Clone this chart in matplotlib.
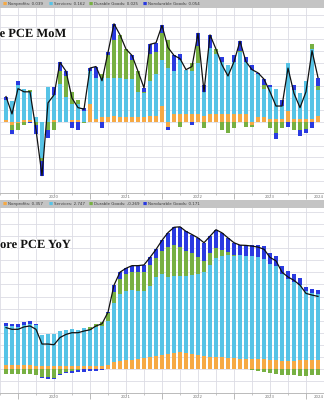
import matplotlib
matplotlib.use("Agg")
import matplotlib.pyplot as plt
import matplotlib.patheffects as pe
import numpy as np

# --- DATA (one bar per month, plotted at month end, Oct 2019 .. Feb 2024)
months = np.arange(-2, 51)          # 0 = end of Dec 2019
years = [2020, 2021, 2022, 2023, 2024]
year_starts = [0, 12, 24, 36, 48]
year_label_pos = [6, 18, 30, 42, 50.2]
names = ["Nonprofits", "Services", "Durable Goods", "Nondurable Goods"]

# Core PCE MoM contributions
mom_nonprofits = [0.01, -0.02, -0.01,
                  0.01, 0.01, 0.0, 0.0, 0.0, 0.01, 0.0, 0.0, 0.01, 0.01, 0.0, 0.11,
                  0.02, 0.03, 0.03, 0.04, 0.03, 0.03, 0.03, 0.03, 0.03, 0.04, 0.04, 0.10,
                  -0.03, 0.05, 0.05, 0.05, 0.05, 0.05, 0.04, 0.05, 0.05, 0.05, 0.05, 0.05,
                  0.05, 0.05, -0.02, 0.03, 0.03, 0.02, 0.02, 0.02, 0.07, 0.02, 0.02, 0.02,
                  0.02, 0.039]
mom_services = [0.13, 0.13, 0.23,
                0.20, 0.18, 0.03, -0.23, 0.22, 0.16, 0.24, 0.16, 0.10, 0.10, 0.07, 0.21,
                0.26, 0.25, 0.25, 0.24, 0.25, 0.24, 0.24, 0.16, 0.15, 0.22, 0.26, 0.29,
                0.34, 0.27, 0.34, 0.28, 0.27, 0.32, 0.15, 0.42, 0.38, 0.33, 0.31, 0.33,
                0.39, 0.33, 0.33, 0.27, 0.18, 0.20, 0.19, 0.08, 0.30, 0.18, 0.16, 0.24,
                0.44, 0.162]
mom_durable = [0.0, -0.03, -0.04,
               -0.02, 0.01, -0.02, -0.02, -0.05, -0.05, 0.08, 0.13, 0.08, 0.03, -0.01, 0.0,
               0.0, 0.02, 0.14, 0.24, 0.27, 0.19, 0.12, 0.13, 0.01, 0.17, 0.14, 0.17,
               0.18, 0.0, -0.03, 0.0, 0.05, 0.11, -0.04, 0.0, 0.03, -0.05, -0.07, -0.04,
               0.01, -0.03, -0.01, 0.0, 0.02, -0.04, -0.07, -0.04, 0.0, -0.05, -0.05, -0.045,
               0.03, 0.025]
mom_nondurable = [0.02, -0.03, 0.03,
                  0.0, -0.01, -0.06, -0.09, -0.05, 0.05, 0.056, 0.03, -0.04, -0.05, 0.02, 0.02,
                  0.07, -0.04, 0.02, 0.10, 0.0, 0.0, 0.03, 0.0, 0.025, 0.06, 0.06, 0.05,
                  -0.02, 0.10, 0.04, 0.0, -0.02, 0.08, 0.04, 0.08, 0.0, 0.03, 0.0, 0.04,
                  0.06, 0.03, 0.03, 0.01, 0.04, 0.01, -0.04, 0.04, -0.03, 0.03, -0.04, -0.025,
                  -0.04, 0.054]

# Core PCE YoY contributions
yoy_nonprofits = [0.15, 0.15, 0.15,
                  0.15, 0.15, 0.14, 0.12, 0.12, 0.12, 0.12, 0.12, 0.12, 0.12, 0.12, 0.12,
                  0.13, 0.14, 0.18, 0.28, 0.32, 0.35, 0.38, 0.40, 0.45, 0.50, 0.55, 0.56,
                  0.60, 0.65, 0.69, 0.65, 0.60, 0.58, 0.52, 0.50, 0.50, 0.48, 0.46, 0.44,
                  0.42, 0.42, 0.41, 0.40, 0.40, 0.38, 0.36, 0.34, 0.34, 0.34, 0.35, 0.35,
                  0.36, 0.357]
yoy_services = [1.64, 1.61, 1.59,
                1.67, 1.71, 1.66, 1.28, 1.31, 1.31, 1.43, 1.49, 1.54, 1.51, 1.57, 1.50,
                1.61, 1.64, 1.82, 2.46, 2.79, 2.87, 2.90, 2.83, 2.78, 2.92, 3.25, 3.37,
                3.22, 3.20, 3.16, 3.22, 3.30, 3.35, 3.50, 3.80, 4.10, 4.20, 4.25, 4.25,
                4.29, 4.25, 4.26, 4.23, 4.14, 3.95, 3.89, 3.58, 3.39, 3.26, 3.13, 2.86,
                2.77, 2.747]
yoy_durable = [-0.20, -0.22, -0.22,
               -0.22, -0.22, -0.24, -0.32, -0.35, -0.38, -0.20, -0.12, -0.08, -0.05, -0.02, 0.10,
               0.12, 0.15, 0.30, 0.45, 0.60, 0.70, 0.75, 0.80, 0.80, 0.90, 0.80, 0.95,
               1.23, 1.27, 1.19, 1.03, 0.92, 0.70, 0.46, 0.50, 0.42, 0.26, 0.12, 0.04,
               0.00, -0.02, -0.05, -0.08, -0.12, -0.18, -0.22, -0.25, -0.26, -0.27, -0.28, -0.28,
               -0.27, -0.269]
yoy_nondurable = [0.12, 0.10, 0.12,
                  0.14, 0.14, 0.08, -0.05, -0.05, -0.05, -0.05, -0.06, -0.08, -0.08, -0.10, -0.10,
                  -0.08, -0.06, 0.05, 0.28, 0.30, 0.25, 0.25, 0.25, 0.28, 0.30, 0.35, 0.45,
                  0.60, 0.75, 0.85, 0.80, 0.75, 0.80, 0.75, 0.70, 0.75, 0.70, 0.60, 0.50,
                  0.42, 0.47, 0.47, 0.50, 0.54, 0.47, 0.45, 0.34, 0.34, 0.34, 0.27, 0.20,
                  0.20, 0.171]

colors = ["#f6a944", "#56c3e6", "#77b042", "#2a3ae0"]
GRID = "#dcdce4"


def stacked_bars(ax, x, series):
    # positives stack up from zero, negatives stack down, in series order
    pos = np.zeros(len(x))
    neg = np.zeros(len(x))
    for vals, c in zip(series, colors):
        v = np.asarray(vals, dtype=float)
        base = np.where(v >= 0, pos, neg)
        ax.bar(x, v, bottom=base, width=0.7, color=c, linewidth=0, zorder=2)
        pos += np.clip(v, 0, None)
        neg += np.clip(v, None, 0)
    return pos + neg


def setup_axes(ax, ylim, step):
    ax.set_xlim(-1.94, 50.13)
    ax.set_ylim(*ylim)
    ax.set_yticks(np.arange(np.floor(ylim[0] / step) * step, ylim[1], step))
    ax.set_xticks(year_starts)
    ax.set_xticks(np.arange(-3, 52, 3), minor=True)
    ax.set_xticklabels([])
    ax.grid(True, which="both", axis="x", color=GRID, lw=0.6, zorder=0)
    ax.grid(True, which="major", axis="y", color=GRID, lw=0.6, zorder=0)
    ax.set_axisbelow(True)
    for s in ["top", "left", "right"]:
        ax.spines[s].set_visible(False)
    ax.spines["bottom"].set_color("#b0b0b0")
    ax.spines["bottom"].set_linewidth(0.6)
    ax.tick_params(axis="y", left=False, labelleft=False)
    ax.tick_params(axis="x", which="major", length=4, width=0.6, color="#b0b0b0")
    ax.tick_params(axis="x", which="minor", length=1.5, width=0.5, color="#b0b0b0")
    for yr, xp in zip(years, year_label_pos):
        ax.text(xp, -0.022, str(yr), transform=ax.get_xaxis_transform(),
                ha="center", va="center", fontsize=2.8, color="#777777")


def legend_bar(rect, series):
    lax = fig.add_axes(rect)
    lax.set_facecolor("#c4c4c4")
    lax.set_xlim(0, 324)
    lax.set_ylim(0, 1)
    lax.set_xticks([])
    lax.set_yticks([])
    for s in lax.spines.values():
        s.set_visible(False)
    starts = [3, 49, 89, 143]
    for xs, name, vals, c in zip(starts, names, series, colors):
        lax.text(xs, 0.5, "\u25a0", color=c, fontsize=3.2, va="center", ha="left")
        lax.text(xs + 5, 0.5, f"{name}: {vals[-1]:.3f}", color="#3a3a3a",
                 fontsize=2.9, va="center", ha="left")


fig = plt.figure(figsize=(3.24, 4.0), dpi=100)

# --- MoM panel
mom = [mom_nonprofits, mom_services, mom_durable, mom_nondurable]
ax1 = fig.add_axes([0, 0.5175, 1, 0.4625])
setup_axes(ax1, (-0.44, 0.72), 0.075)
total = stacked_bars(ax1, months, mom)
ax1.plot(months, total, color="#111111", lw=0.9, zorder=3)
legend_bar([0, 0.98, 1, 0.02], mom)
fig.text(-21 / 324, 1 - 34 / 400, "Core PCE MoM", fontsize=9, fontweight="bold",
         family="Liberation Serif", va="center", ha="left", color="#111111",
         path_effects=[pe.withStroke(linewidth=1.5, foreground="white")])

# --- YoY panel
yoy = [yoy_nonprofits, yoy_services, yoy_durable, yoy_nondurable]
ax2 = fig.add_axes([0, 0.0175, 1, 0.4625])
setup_axes(ax2, (-0.85, 6.67), 0.5)
total = stacked_bars(ax2, months, yoy)
ax2.plot(months, total, color="#111111", lw=0.9, zorder=3)
legend_bar([0, 0.48, 1, 0.02], yoy)
fig.text(-9 / 324, 1 - 245 / 400, "Core PCE YoY", fontsize=9, fontweight="bold",
         family="Liberation Serif", va="center", ha="left", color="#111111",
         path_effects=[pe.withStroke(linewidth=1.5, foreground="white")])

fig.savefig("out.png", dpi=100)
